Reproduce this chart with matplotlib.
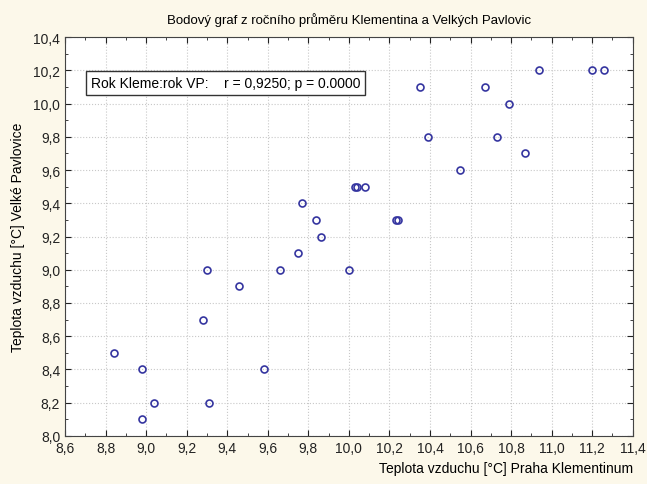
import matplotlib
matplotlib.use("Agg")
import matplotlib.pyplot as plt
from matplotlib.ticker import MultipleLocator, FuncFormatter

plt.rcParams['font.family'] = ['Liberation Sans', 'DejaVu Sans']

# Roční průměry teplot: Klementinum (x) a Velké Pavlovice (y)
klementinum = [8.84, 8.98, 8.98, 9.04, 9.30, 9.28, 9.31, 9.46, 9.58, 9.66,
               9.75, 9.77, 9.84, 9.86, 10.00, 10.03, 10.04, 10.08, 10.23, 10.24,
               10.35, 10.39, 10.55, 10.67, 10.73, 10.79, 10.87, 10.94, 11.20, 11.26]
pavlovice = [8.5, 8.4, 8.1, 8.2, 9.0, 8.7, 8.2, 8.9, 8.4, 9.0,
             9.1, 9.4, 9.3, 9.2, 9.0, 9.5, 9.5, 9.5, 9.3, 9.3,
             10.1, 9.8, 9.6, 10.1, 9.8, 10.0, 9.7, 10.2, 10.2, 10.2]

bg = "#fcf8ea"
fig = plt.figure(figsize=(6.47, 4.85), dpi=100, facecolor=bg)
ax = fig.add_axes([0.1005, 0.099, 0.8775, 0.8226])
ax.set_facecolor("white")

ax.plot(klementinum, pavlovice, "o", mfc="none", mec="#3535a0", ms=5, mew=1.2)

ax.set_xlim(8.6, 11.4)
ax.set_ylim(8.0, 10.4)
ax.xaxis.set_major_locator(MultipleLocator(0.2))
ax.yaxis.set_major_locator(MultipleLocator(0.2))
ax.xaxis.set_minor_locator(MultipleLocator(0.1))
ax.yaxis.set_minor_locator(MultipleLocator(0.1))
carka = FuncFormatter(lambda v, p: f"{v:.1f}".replace(".", ","))
ax.xaxis.set_major_formatter(carka)
ax.yaxis.set_major_formatter(carka)

ax.tick_params(which="both", direction="in", top=True, right=True, labelsize=10, colors="#222222")
ax.tick_params(which="major", length=4)
ax.tick_params(which="minor", length=2)
ax.grid(True, which="major", linestyle=":", color="#c8c8c8", linewidth=0.8)
for s in ax.spines.values():
    s.set_color("#444444")

ax.set_title("Bodový graf z ročního průměru Klementina a Velkých Pavlovic", fontsize=9.5, pad=10)
ax.set_ylabel("Teplota vzduchu [°C] Velké Pavlovice", fontsize=10, labelpad=6)
fig.text(0.978, 0.025, "Teplota vzduchu [°C] Praha Klementinum", fontsize=10, ha="right")

ax.text(0.045, 0.885, "Rok Kleme:rok VP:    r = 0,9250; p = 0.0000", transform=ax.transAxes,
        fontsize=10, va="center",
        bbox=dict(boxstyle="square,pad=0.35", fc="white", ec="#333333", lw=1))

fig.savefig("out.png", dpi=100, facecolor=bg)
